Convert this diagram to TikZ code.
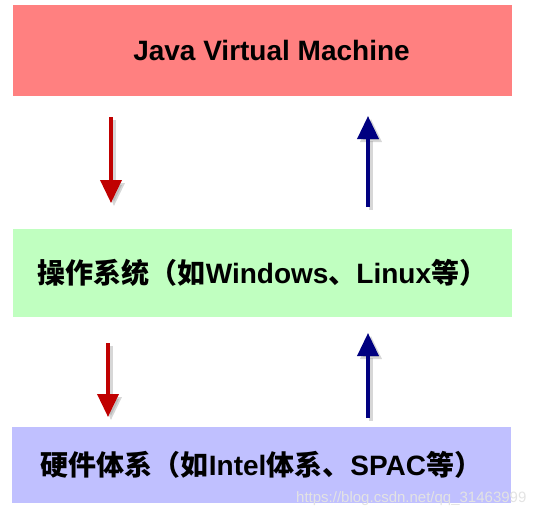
\documentclass[tikz,border=0pt]{standalone}
\usepackage{fontspec}
\setmainfont{Liberation Sans}
\newfontfamily\cjk{Noto Sans CJK SC}
\usepackage{tikz}
\usetikzlibrary{arrows.meta}
\definecolor{jvmred}{RGB}{255,128,128}
\definecolor{osgreen}{RGB}{192,255,192}
\definecolor{hwblue}{RGB}{192,192,255}
\definecolor{downred}{RGB}{192,0,0}
\definecolor{upblue}{RGB}{0,0,128}
\tikzset{
  layer/.style={minimum width=499pt,inner sep=0pt,font=\fontsize{28}{32}\selectfont\bfseries},
  flow/.style={line width=3.6pt,-{Triangle[width=21pt,length=23pt]}},
  flowshadow/.style={flow,draw=black!45,opacity=0.35,transform canvas={shift={(3pt,-3pt)}}}
}

\begin{document}
\begin{tikzpicture}[x=1pt,y=-1pt]
  \useasboundingbox (0,0) rectangle (549,517);
  \node[layer,fill=jvmred,minimum height=91pt] (jvm) at (262.5,50.5) {\hspace*{18pt}Java Virtual Machine};
  \node[layer,fill=osgreen,minimum height=88pt] (os) at (262.5,273) {{\cjk 操作系统（如}Windows{\cjk 、}Linux{\cjk 等）}};
  \node[layer,fill=hwblue,minimum height=76pt] (hw) at (261.5,465) {{\cjk 硬件体系（如}Intel{\cjk 体系、}SPAC{\cjk 等）}};
  \coordinate (d1s) at (111,117); \coordinate (d1e) at (111,203);
  \coordinate (u1s) at (368,207); \coordinate (u1e) at (368,116);
  \coordinate (d2s) at (108,343); \coordinate (d2e) at (108,417);
  \coordinate (u2s) at (368,418); \coordinate (u2e) at (368,333);
  \draw[flowshadow] (d1s) -- (d1e); \draw[flowshadow] (u1s) -- (u1e);
  \draw[flowshadow] (d2s) -- (d2e); \draw[flowshadow] (u2s) -- (u2e);
  \draw[flow,downred] (d1s) -- (d1e); \draw[flow,upblue] (u1s) -- (u1e);
  \draw[flow,downred] (d2s) -- (d2e); \draw[flow,upblue] (u2s) -- (u2e);
  \node[anchor=base west,inner sep=0pt,text=gray!22,font=\fontsize{15}{15}\selectfont] (mark) at (296,502) {https://blog.csdn.net/qq\_31463999};
\end{tikzpicture}
\end{document}
